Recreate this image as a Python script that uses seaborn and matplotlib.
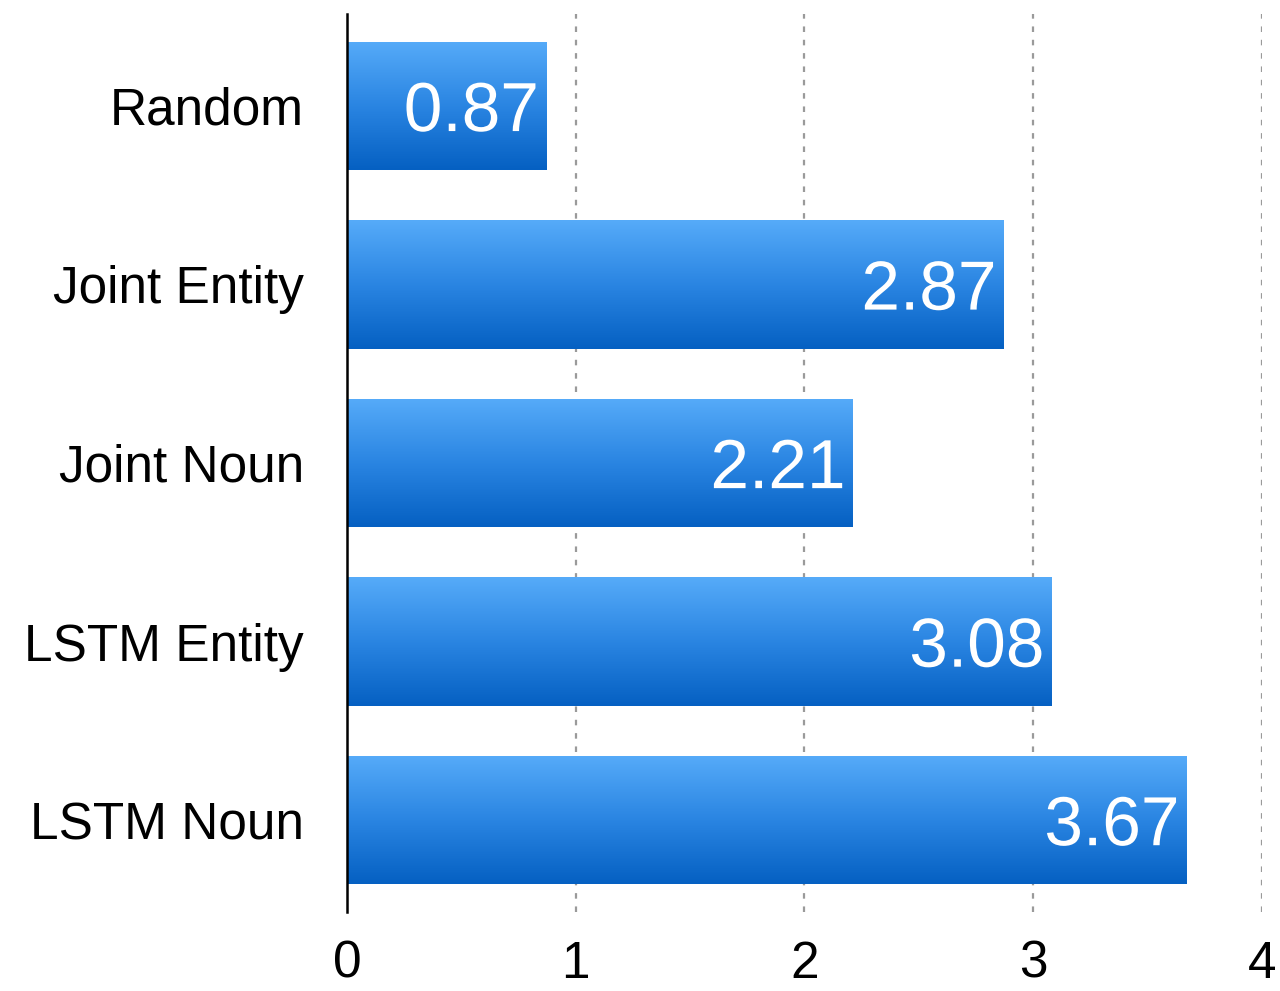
import numpy as np
import pandas as pd
import matplotlib
matplotlib.use("Agg")
import matplotlib.pyplot as plt
import matplotlib.patheffects as pe
from matplotlib.colors import LinearSegmentedColormap
import seaborn as sns

models = ["Random", "Joint Entity", "Joint Noun", "LSTM Entity", "LSTM Noun"]
scores = [0.87, 2.87, 2.21, 3.08, 3.67]
x_ticks = [0, 1, 2, 3, 4]

df = pd.DataFrame({"model": models, "score": scores})

sns.set_style("white")
plt.rcParams["font.family"] = ["Liberation Sans", "DejaVu Sans"]

fig = plt.figure(figsize=(12.8, 9.91), dpi=100)
ax = fig.add_axes([0.2711, 0.0797, 0.7148, 0.9062])

sns.barplot(data=df, x="score", y="model", orient="h", width=0.72,
            color="#2f86e0", ax=ax)

# vertical gradient on each bar
cmap = LinearSegmentedColormap.from_list("bluegrad", ["#56abf9", "#2a85e2", "#0560c2"])
grad = np.linspace(0, 1, 256).reshape(-1, 1)
for bar in ax.patches:
    x0, y0 = bar.get_x(), bar.get_y()
    w, h = bar.get_width(), bar.get_height()
    bar.set_facecolor("none")
    bar.set_edgecolor("none")
    im = ax.imshow(grad, cmap=cmap, aspect="auto", interpolation="bicubic",
                   extent=[x0, x0 + w, y0 + h, y0], zorder=2)
    im.set_clip_path(bar)

ax.set_xlim(0, 4)
ax.set_ylim(4.515, -0.515)
ax.set_xticks(x_ticks)
ax.set_xticklabels([str(t) for t in x_ticks])
ax.set_xlabel("")
ax.set_ylabel("")

for t in x_ticks[1:]:
    ax.axvline(t, color="#9a9a9a", linestyle=(0, (2.5, 3.5)), linewidth=1.6, zorder=1)

for s in ["top", "right", "bottom"]:
    ax.spines[s].set_visible(False)
ax.spines["left"].set_color("black")
ax.spines["left"].set_linewidth(1.8)
ax.spines["left"].set_zorder(5)

ax.tick_params(axis="both", length=0, labelsize=37, colors="black")
ax.tick_params(axis="y", pad=31)
ax.tick_params(axis="x", pad=20)

for i, v in enumerate(scores):
    t = ax.text(v - 0.03, i + 0.04, f"{v:.2f}", ha="right", va="center", color="white",
                fontsize=50, zorder=6)
    t.set_path_effects([pe.SimpleLineShadow(offset=(1.5, -2.5), shadow_color="black", alpha=0.35),
                        pe.Normal()])

fig.savefig("out.png", dpi=100)
